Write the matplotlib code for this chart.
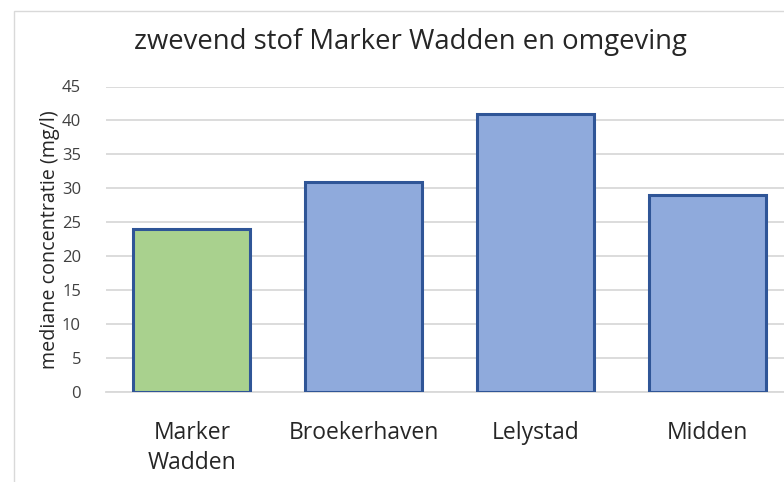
import matplotlib
matplotlib.use("Agg")
import matplotlib.pyplot as plt
from matplotlib.patches import Rectangle

categories = ["Marker\nWadden", "Broekerhaven", "Lelystad", "Midden"]
values = [24, 31, 41, 29]
bar_colors = ["#A9D18E", "#8FAADC", "#8FAADC", "#8FAADC"]
yticks = [0, 5, 10, 15, 20, 25, 30, 35, 40, 45]

plt.rcParams["font.family"] = ["Open Sans", "DejaVu Sans"]

W, H = 784, 482
fig = plt.figure(figsize=(W / 100, H / 100), dpi=100)

# chart-area border (runs off the right and bottom edges)
fig.patches.append(Rectangle((14 / W, -0.05), 1.2, (H - 11) / H + 0.05,
                             transform=fig.transFigure, fill=False,
                             edgecolor="#D9D9D9", linewidth=1.0))

ax = fig.add_axes([106 / W, (H - 392) / H, 687 / W, (392 - 86.5) / H])
x = range(len(categories))
ax.bar(x, values, width=0.68, color=bar_colors, edgecolor="#2F5597",
       linewidth=2.2, zorder=3)
ax.set_xlim(-0.5, len(categories) - 0.5)
ax.set_ylim(0, 45)
ax.set_yticks(yticks)
ax.set_xticks(list(x))
ax.set_xticklabels(categories, fontsize=16.5, color="#262626", linespacing=1.3)
ax.tick_params(axis="y", labelsize=12, labelcolor="#404040", length=0, pad=18)
ax.tick_params(axis="x", length=0, pad=21)
ax.grid(axis="y", color="#D9D9D9", linewidth=1.3, zorder=0)
for s in ["top", "right", "left"]:
    ax.spines[s].set_visible(False)
ax.spines["bottom"].set_color("#D9D9D9")
ax.spines["bottom"].set_linewidth(1.3)

ax.set_ylabel("mediane concentratie (mg/l)", fontsize=14.2, color="#262626",
              labelpad=1)
fig.text(410 / W, 1 - 42 / H, "zwevend stof Marker Wadden en omgeving",
         ha="center", va="center", fontsize=19.8, color="#262626")

fig.savefig("out.png", dpi=100)
